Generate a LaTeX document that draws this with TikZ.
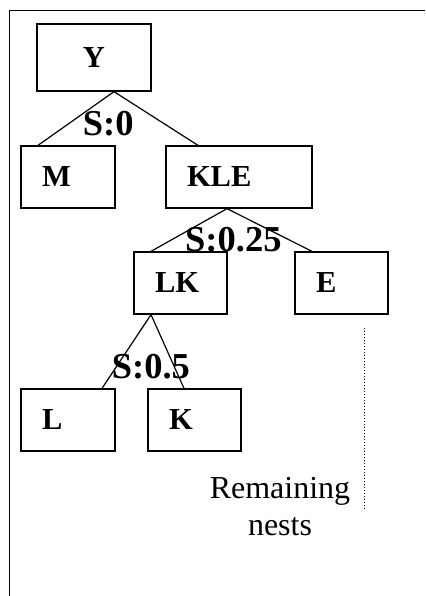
\documentclass[tikz,border=0pt]{standalone}
\usepackage{fontspec}
\setmainfont{Liberation Serif}
\begin{document}
\begin{tikzpicture}[x=1pt,y=-1pt,
  box/.style={draw,line width=1.3pt,minimum height=62pt,inner xsep=21pt,inner ysep=0pt,
    align=left,font=\fontsize{30.5}{30.5}\selectfont\bfseries},
  wire/.style={line width=1.2pt},
  slabel/.style={anchor=base west,inner sep=0pt,font=\fontsize{36.5}{36.5}\selectfont\bfseries}]
\useasboundingbox (0,0) rectangle (425,596);
\draw[line width=1.4pt] (9.5,596) -- (9.5,10.5) -- (425,10.5);
\node[box,minimum width=114pt,minimum height=67pt,align=center] (Y) at (94,57.5) {Y};
\node[box,text width=52pt] (M) at (68,177) {M};
\node[box,text width=104pt] (KLE) at (239,177) {KLE};
\node[box,text width=51pt] (LK) at (180.5,283) {LK};
\node[box,text width=51pt] (E) at (341.5,283) {E};
\node[box,text width=52pt] (L) at (68,420) {L};
\node[box,text width=51pt] (K) at (194.5,420) {K};
\draw[wire] ([xshift=20pt]Y.south) -- ([xshift=-30pt]M.north);
\draw[wire] ([xshift=20pt]Y.south) -- ([xshift=-41pt]KLE.north);
\draw[wire] ([xshift=-12pt]KLE.south) -- ([xshift=-29.5pt]LK.north);
\draw[wire] ([xshift=-12pt]KLE.south) -- ([xshift=-29.5pt]E.north);
\draw[wire] ([xshift=-29.5pt]LK.south) -- ([xshift=34pt]L.north);
\draw[wire] ([xshift=-29.5pt]LK.south) -- ([xshift=-10.5pt]K.north);
\node[slabel] (s0) at (82.7,136) {S:0};
\node[slabel] (s25) at (185,251.5) {S:0.25};
\node[slabel] (s5) at (111.7,378) {S:0.5};
\node[anchor=base,inner sep=0pt,align=center,font=\fontsize{32}{37}\selectfont] (rem) at (280,535) {Remaining\\nests};
\coordinate (dt) at (364,328);
\coordinate (db) at (364,509);
\draw[dotted,line width=1pt] (dt) -- (db);
\end{tikzpicture}
\end{document}
